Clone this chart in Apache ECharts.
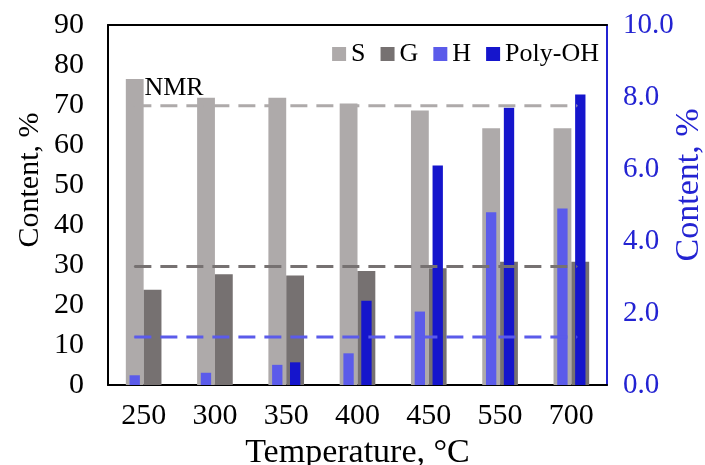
<!DOCTYPE html>
<html>
<head>
<meta charset="utf-8">
<script src="https://cdn.jsdelivr.net/npm/echarts@6/dist/echarts.min.js"></script>
<style>
  html, body { margin: 0; padding: 0; background: #fff; }
  #chart { width: 705px; height: 465px; }
</style>
</head>
<body>
<div id="chart"></div>
<script>
// Pyrolysis temperature (°C)
const categories = ['250', '300', '350', '400', '450', '550', '700'];

// Left axis (Content, %): S and G units
const sValues = [76.5, 71.8, 71.8, 70.4, 68.6, 64.2, 64.2];
const gValues = [23.8, 27.7, 27.4, 28.5, 29.2, 30.8, 30.8];

// Right axis (Content, %): H units and poly-hydroxy phenols
const hValues = [0.27, 0.34, 0.56, 0.88, 2.04, 4.8, 4.9];
const polyOhValues = [null, null, 0.63, 2.34, 6.1, 7.7, 8.07];

// NMR reference levels
const nmrS = 69.8;
const nmrG = 29.6;
const nmrH = 1.33;
// Horizontal extent of the NMR reference lines, in category units
const nmrSpan = [-0.13, 6.08];

// Axis tick settings
const leftAxisMax = 90, leftAxisStep = 10;
const rightAxisMax = 10, rightAxisStep = 2;

const SERIF = '"Liberation Serif", "Times New Roman", serif';
const BLUE_AXIS = '#2323d2';
const colors = { S: '#aeaaaa', G: '#767171', H: '#5b5bea', P: '#1515cc' };

const chart = echarts.init(document.getElementById('chart'), null, { renderer: 'canvas' });

function nmrLine(name, value, yIndex, color, withLabel) {
  const pts = [[nmrSpan[0], value], [nmrSpan[1], value]];
  const data = pts.map((p, i) => {
    const item = { value: p };
    if (withLabel && i === 0) {
      item.label = {
        show: true,
        formatter: 'NMR',
        position: 'top',
        align: 'left',
        offset: [10, 0],
        distance: 4,
        color: '#000',
        fontFamily: SERIF,
        fontSize: 26
      };
    }
    return item;
  });
  return {
    name: name,
    type: 'line',
    xAxisIndex: 2,
    yAxisIndex: yIndex,
    data: data,
    symbol: 'rect',
    symbolSize: 1,
    itemStyle: { color: color },
    lineStyle: { color: color, width: 3, type: [17, 9] },
    z: 5,
    silent: true,
    animation: false
  };
}

const option = {
  animation: false,
  backgroundColor: '#fff',
  grid: { left: 108, right: 98, top: 25, bottom: 80, containLabel: false, outerBoundsMode: 'none' },
  legend: {
    data: ['S', 'G', 'H', 'Poly-OH'],
    right: 101,
    top: 36,
    icon: 'rect',
    itemWidth: 14,
    itemHeight: 14,
    itemGap: 15,
    textStyle: { fontFamily: SERIF, fontSize: 26, color: '#000' }
  },
  xAxis: [
    {
      type: 'category',
      data: categories,
      position: 'bottom',
      axisLine: { show: true, onZero: false, lineStyle: { color: '#000', width: 2 } },
      axisTick: { show: false },
      axisLabel: { color: '#000', fontFamily: SERIF, fontSize: 30, margin: 16 },
      splitLine: { show: false },
      name: 'Temperature, °C',
      nameLocation: 'middle',
      nameGap: 50,
      nameTextStyle: { color: '#000', fontFamily: SERIF, fontSize: 34 }
    },
    {
      type: 'category',
      data: categories,
      position: 'top',
      axisLine: { show: true, onZero: false, lineStyle: { color: '#000', width: 2 } },
      axisTick: { show: false },
      axisLabel: { show: false },
      splitLine: { show: false }
    },
    {
      type: 'value',
      min: -0.5,
      max: categories.length - 0.5,
      show: false,
      axisLine: { onZero: false }
    }
  ],
  yAxis: [
    {
      type: 'value',
      position: 'left',
      min: 0,
      max: leftAxisMax,
      interval: leftAxisStep,
      axisLine: { show: true, onZero: false, lineStyle: { color: '#000', width: 2 } },
      axisTick: { show: false },
      splitLine: { show: false },
      axisLabel: { color: '#000', fontFamily: SERIF, fontSize: 30, margin: 24 }
    },
    {
      type: 'value',
      position: 'right',
      min: 0,
      max: rightAxisMax,
      interval: rightAxisStep,
      axisLine: { show: true, onZero: false, lineStyle: { color: BLUE_AXIS, width: 2 } },
      axisTick: { show: false },
      splitLine: { show: false },
      axisLabel: {
        color: BLUE_AXIS, fontFamily: SERIF, fontSize: 29, margin: 16,
        formatter: v => v.toFixed(1)
      }
    }
  ],
  graphic: [
    {
      type: 'text',
      x: 30, y: 180,
      rotation: Math.PI / 2,
      style: { text: 'Content, %', fill: '#000', font: '30px ' + SERIF, align: 'center', verticalAlign: 'middle' }
    },
    {
      type: 'text',
      x: 689, y: 185,
      rotation: Math.PI / 2,
      style: { text: 'Content, %', fill: BLUE_AXIS, font: '34px ' + SERIF, align: 'center', verticalAlign: 'middle' }
    }
  ],
  series: [
    {
      name: 'S', type: 'bar', xAxisIndex: 0, yAxisIndex: 0, data: sValues,
      itemStyle: { color: colors.S }, barCategoryGap: '50%', barGap: '0%', z: 2
    },
    {
      name: 'G', type: 'bar', xAxisIndex: 0, yAxisIndex: 0, data: gValues,
      itemStyle: { color: colors.G }, barCategoryGap: '50%', barGap: '0%', z: 2
    },
    {
      name: 'H', type: 'bar', xAxisIndex: 1, yAxisIndex: 1, data: hValues,
      itemStyle: { color: colors.H }, barWidth: '14.5%', barGap: '73%', z: 3
    },
    {
      name: 'Poly-OH', type: 'bar', xAxisIndex: 1, yAxisIndex: 1, data: polyOhValues,
      itemStyle: { color: colors.P }, barWidth: '14.5%', barGap: '73%', z: 3
    },
    nmrLine('S NMR', nmrS, 0, colors.S, true),
    nmrLine('G NMR', nmrG, 0, colors.G, false),
    nmrLine('H NMR', nmrH, 1, colors.H, false)
  ]
};

chart.setOption(option);
</script>
</body>
</html>
